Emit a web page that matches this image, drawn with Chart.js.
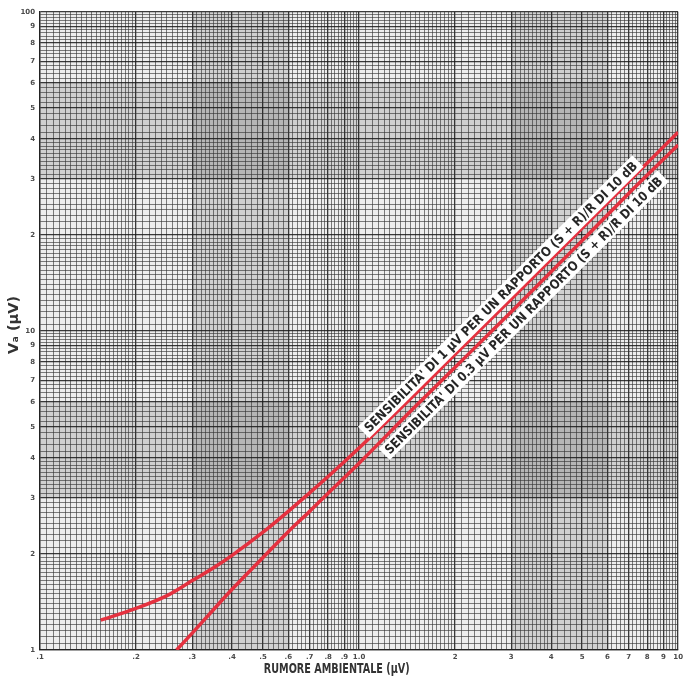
<!DOCTYPE html>
<html>
<head>
<meta charset="utf-8">
<script src="https://cdn.jsdelivr.net/npm/chart.js@4"></script>
<style>
  html, body { margin: 0; padding: 0; background: #fff; }
  #wrap { width: 686px; height: 677px; }
</style>
</head>
<body>
<div id="wrap"><canvas id="myChart"></canvas></div>
<script>
  // curve for 1 uV sensitivity
  const noise1 = [0.155, 0.2, 0.25, 0.3, 0.35, 0.4, 0.5, 0.6, 0.7, 0.8, 1.0, 1.5, 2, 3, 5, 7, 10];
  const va1 = [1.24, 1.35, 1.48, 1.65, 1.81, 1.98, 2.34, 2.72, 3.11, 3.5, 4.3, 6.35, 8.45, 12.6, 21, 29.4, 42];

  // curve for 0.3 uV sensitivity
  const noise2 = [0.268, 0.3, 0.35, 0.4, 0.5, 0.6, 0.7, 0.8, 1.0, 1.5, 2, 3, 5, 7, 10];
  const va2 = [1.0, 1.13, 1.34, 1.55, 1.95, 2.35, 2.72, 3.1, 3.85, 5.8, 7.7, 11.5, 19.2, 27, 38.3];

  const xTickValues = [0.1, 0.2, 0.3, 0.4, 0.5, 0.6, 0.7, 0.8, 0.9, 1, 2, 3, 4, 5, 6, 7, 8, 9, 10];
  const xTickLabels = ['.1', '.2', '.3', '.4', '.5', '.6', '.7', '.8', '.9', '1.0', '2', '3', '4', '5', '6', '7', '8', '9', '10'];
  const yTickValues = [1, 2, 3, 4, 5, 6, 7, 8, 9, 10, 20, 30, 40, 50, 60, 70, 80, 90, 100];
  const yTickLabels = ['1', '2', '3', '4', '5', '6', '7', '8', '9', '10', '2', '3', '4', '5', '6', '7', '8', '9', '100'];

  const xTitle = 'RUMORE AMBIENTALE (\u00B5V)';
  const yTitle = 'V\u2090 (\u00B5V)';

  // graph paper rulings inside one decade: [from, to, step]
  const gridSteps = [[1, 2, 0.05], [2, 4, 0.1], [4, 10, 0.2]];
  const xBands = [[0.3, 0.6], [3, 6]];
  const yBands = [[3, 6], [30, 60]];

  const notes = [
    { text: "SENSIBILITA' DI 1 \u00B5V PER UN RAPPORTO (S + R)/R DI 10 dB", at: [2.78, 12.8], along: [[1, 4.3], [10, 42]], length: 378 },
    { text: "SENSIBILITA' DI 0.3 \u00B5V PER UN RAPPORTO (S + R)/R DI 10 dB", at: [3.28, 11.2], along: [[1, 3.85], [10, 38.3]], length: 386 }
  ];

  function gridValues(min, max) {
    const out = [];
    for (let base = min; base < max * 0.999; base *= 10) {
      gridSteps.forEach(([from, to, step]) => {
        const n = Math.round((to - from) / step);
        for (let i = 0; i < n; i++) out.push(+(base * (from + i * step)).toPrecision(6));
      });
    }
    out.push(max);
    return out;
  }

  function isMajor(v) {
    const m = v / Math.pow(10, Math.floor(Math.log10(v) + 1e-9));
    return Math.abs(m - Math.round(m)) < 1e-6;
  }

  function labelFor(v, values, labels) {
    const i = values.findIndex(t => Math.abs(t - v) < v * 1e-6);
    return i >= 0 ? labels[i] : '';
  }

  // draw text squeezed to a given width
  function squeezed(ctx, text, width) {
    const w = ctx.measureText(text).width;
    ctx.save();
    ctx.scale(width / w, 1);
    ctx.fillText(text, 0, 0);
    ctx.restore();
  }

  const titleFont = '"DejaVu Sans Condensed", "DejaVu Sans", sans-serif';

  const paper = {
    id: 'paper',
    beforeDraw(chart) {
      const { ctx, chartArea: a, scales: { x, y } } = chart;
      ctx.save();
      ctx.fillStyle = '#fff';
      ctx.fillRect(0, 0, chart.width, chart.height);
      ctx.fillStyle = 'rgba(0,0,0,0.07)';
      ctx.fillRect(a.left, a.top, a.right - a.left, a.bottom - a.top);
      ctx.fillStyle = 'rgba(0,0,0,0.12)';
      xBands.forEach(([lo, hi]) => {
        const x0 = x.getPixelForValue(lo), x1 = x.getPixelForValue(hi);
        ctx.fillRect(x0, a.top, x1 - x0, a.bottom - a.top);
      });
      yBands.forEach(([lo, hi]) => {
        const y0 = y.getPixelForValue(hi), y1 = y.getPixelForValue(lo);
        ctx.fillRect(a.left, y0, a.right - a.left, y1 - y0);
      });
      ctx.restore();
    },
    afterDatasetsDraw(chart) {
      const { ctx, chartArea: a, scales: { x, y } } = chart;
      notes.forEach(n => {
        const p0 = [x.getPixelForValue(n.along[0][0]), y.getPixelForValue(n.along[0][1])];
        const p1 = [x.getPixelForValue(n.along[1][0]), y.getPixelForValue(n.along[1][1])];
        const ang = Math.atan2(p1[1] - p0[1], p1[0] - p0[0]);
        ctx.save();
        ctx.translate(x.getPixelForValue(n.at[0]), y.getPixelForValue(n.at[1]));
        ctx.rotate(ang);
        ctx.fillStyle = '#fff';
        ctx.fillRect(-n.length / 2 - 4, -8, n.length + 8, 16);
        ctx.font = 'bold 13px ' + titleFont;
        ctx.fillStyle = '#262626';
        ctx.textAlign = 'center';
        ctx.textBaseline = 'middle';
        ctx.translate(0, 1);
        squeezed(ctx, n.text, n.length);
        ctx.restore();
      });

      // axis titles
      ctx.save();
      ctx.fillStyle = '#333';
      ctx.textAlign = 'center';
      ctx.textBaseline = 'middle';
      ctx.font = 'bold 14px ' + titleFont;
      ctx.translate(a.left + (a.right - a.left) * 0.465, chart.height - 8);
      squeezed(ctx, xTitle, 146);
      ctx.restore();

      ctx.save();
      ctx.fillStyle = '#333';
      ctx.textAlign = 'center';
      ctx.textBaseline = 'middle';
      ctx.font = 'bold 14px ' + titleFont;
      ctx.translate(14, (a.top + a.bottom) / 2 - 6);
      ctx.rotate(-Math.PI / 2);
      squeezed(ctx, yTitle, 58);
      ctx.restore();
    }
  };

  const tickFont = { family: 'DejaVu Sans', size: 7, weight: 'bold' };
  const gridColor = ctx => isMajor(ctx.tick.value) ? 'rgba(25,25,25,0.85)' : 'rgba(50,50,50,0.62)';
  const gridWidth = ctx => isMajor(ctx.tick.value) ? 1.3 : 1;

  const data = {
    datasets: [{
      label: '1 uV',
      data: noise1.map((v, i) => ({ x: v, y: va1[i] })),
      borderColor: '#e5313f',
      borderWidth: 3.5,
      pointRadius: 0,
      cubicInterpolationMode: 'monotone'
    }, {
      label: '0.3 uV',
      data: noise2.map((v, i) => ({ x: v, y: va2[i] })),
      borderColor: '#e5313f',
      borderWidth: 3.5,
      pointRadius: 0,
      cubicInterpolationMode: 'monotone'
    }]
  };

  const config = {
    type: 'line',
    data: data,
    plugins: [paper],
    options: {
      responsive: false,
      animation: false,
      layout: { autoPadding: false, padding: { top: 12, right: 6, left: 0, bottom: 0 } },
      plugins: { legend: { display: false }, tooltip: { enabled: false } },
      scales: {
        x: {
          type: 'logarithmic',
          min: 0.1,
          max: 10,
          afterBuildTicks: s => { s.ticks = gridValues(0.1, 10).map(v => ({ value: v })); },
          afterFit: s => { s.height = 27; },
          ticks: {
            autoSkip: false, maxRotation: 0, padding: 3, color: '#4a4a4a', font: tickFont,
            callback: v => labelFor(v, xTickValues, xTickLabels)
          },
          grid: { drawTicks: false, color: gridColor, lineWidth: gridWidth },
          border: { color: '#222', width: 1.3 }
        },
        y: {
          type: 'logarithmic',
          min: 1,
          max: 100,
          afterBuildTicks: s => { s.ticks = gridValues(1, 100).map(v => ({ value: v })); },
          afterFit: s => { s.width = 40; },
          ticks: {
            autoSkip: false, padding: 5, color: '#4a4a4a', font: tickFont,
            callback: v => labelFor(v, yTickValues, yTickLabels)
          },
          grid: { drawTicks: false, color: gridColor, lineWidth: gridWidth },
          border: { color: '#222', width: 1.3 }
        }
      }
    }
  };

  const canvas = document.getElementById('myChart');
  canvas.width = 686;
  canvas.height = 677;
  const myChart = new Chart(canvas, config);
</script>
</body>
</html>
